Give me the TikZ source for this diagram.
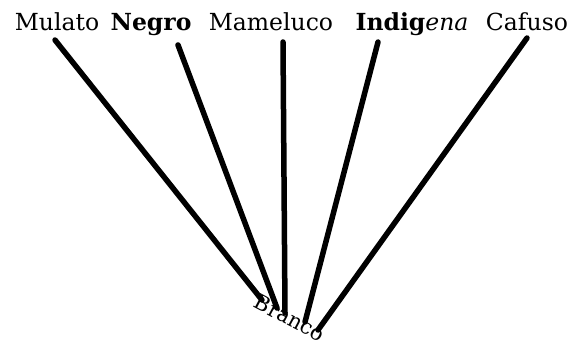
\documentclass[tikz,border=0pt]{standalone}
\usepackage{fontspec}
\setmainfont{DejaVu Serif}
\tikzset{
  lbl/.style={anchor=base, inner sep=0pt, font=\fontsize{23.5}{28}\selectfont},
  ray/.style={line width=5.5pt, line cap=round, black}
}
\begin{document}
\begin{tikzpicture}[x=1pt,y=-1pt]
\useasboundingbox (0,0) rectangle (575,347);
\node[lbl] (mulato) at (57,31) {Mulato};
\node[lbl] (negro) at (151,31) {\bfseries Negro};
\node[lbl] (mameluco) at (271,31) {Mameluco};
\node[lbl] (indigena) at (412,31) {\bfseries Indig\mdseries\itshape ena};
\node[lbl] (cafuso) at (527,31) {Cafuso};
\node[font=\fontsize{21}{26}\selectfont, rotate=-28, inner sep=0pt] (branco) at (290,318) {Branco};
\coordinate (m1) at (55,40);   \coordinate (m2) at (262,300);
\coordinate (n1) at (178,45);  \coordinate (n2) at (277,308);
\coordinate (a1) at (283,42);  \coordinate (a2) at (285,313);
\coordinate (i1) at (378,42);  \coordinate (i2) at (305,322);
\coordinate (c1) at (527,38);  \coordinate (c2) at (318,330);
\draw[ray] (m1) -- (m2);
\draw[ray] (n1) -- (n2);
\draw[ray] (a1) -- (a2);
\draw[ray] (i1) -- (i2);
\draw[ray] (c1) -- (c2);
\end{tikzpicture}
\end{document}
